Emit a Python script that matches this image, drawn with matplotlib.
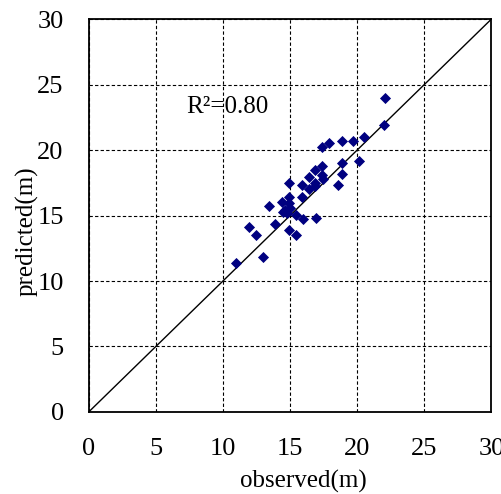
import matplotlib
matplotlib.use("Agg")
import matplotlib.pyplot as plt

observed = [11.0, 11.97, 12.47, 12.99, 13.46, 13.91, 14.40, 14.45, 14.65, 14.95,
            14.95, 14.95, 14.90, 15.0, 14.8, 15.42, 15.42, 15.89, 15.89, 15.95,
            16.39, 16.44, 16.89, 16.89, 16.94, 17.38, 17.38, 17.38, 17.45, 17.93,
            18.57, 18.9, 18.9, 18.9, 19.69, 20.16, 20.51, 22.0, 22.10, 16.86]
predicted = [11.37, 14.10, 13.49, 11.86, 15.73, 14.33, 16.03, 15.24, 15.42, 17.51,
             16.44, 15.93, 13.89, 15.55, 15.17, 15.04, 13.49, 16.44, 17.30, 14.76,
             17.96, 17.05, 17.25, 18.47, 14.78, 20.25, 18.78, 18.09, 17.76, 20.51,
             17.30, 19.03, 18.17, 20.71, 20.71, 19.19, 21.02, 21.90, 23.94, 17.46]
ticks = [0, 5, 10, 15, 20, 25, 30]

plt.rcParams['font.family'] = ['Liberation Serif', 'DejaVu Serif']
fig = plt.figure(figsize=(5.01, 4.94), dpi=100)
ax = fig.add_axes([0.177, 0.166, 0.804, 0.7955])
ax.set_xlim(0, 30)
ax.set_ylim(0, 30)
ax.set_xticks(ticks)
ax.set_yticks(ticks)
ax.grid(True, color='black', linestyle=(0, (3, 2)), linewidth=0.8)
ax.set_axisbelow(True)
ax.plot([0, 30], [0, 30], color='black', linewidth=1.0, zorder=2)
ax.scatter(observed, predicted, marker='D', s=32, color='#000080', zorder=3, linewidths=0)
ax.tick_params(length=0, labelsize=19)
ax.tick_params(axis='x', pad=19)
ax.tick_params(axis='y', pad=18)
for s in ax.spines.values():
    s.set_linewidth(1.3)
    s.set_color('black')
ax.set_xlabel('observed(m)', fontsize=18)
ax.set_ylabel('predicted(m)', fontsize=18)
ax.xaxis.set_label_coords(0.532, -0.148)
ax.yaxis.set_label_coords(-0.125, 0.46)
ax.text(7.25, 23.3, 'R²=0.80', fontsize=18, va='center', ha='left')
fig.savefig('out.png', dpi=100)
